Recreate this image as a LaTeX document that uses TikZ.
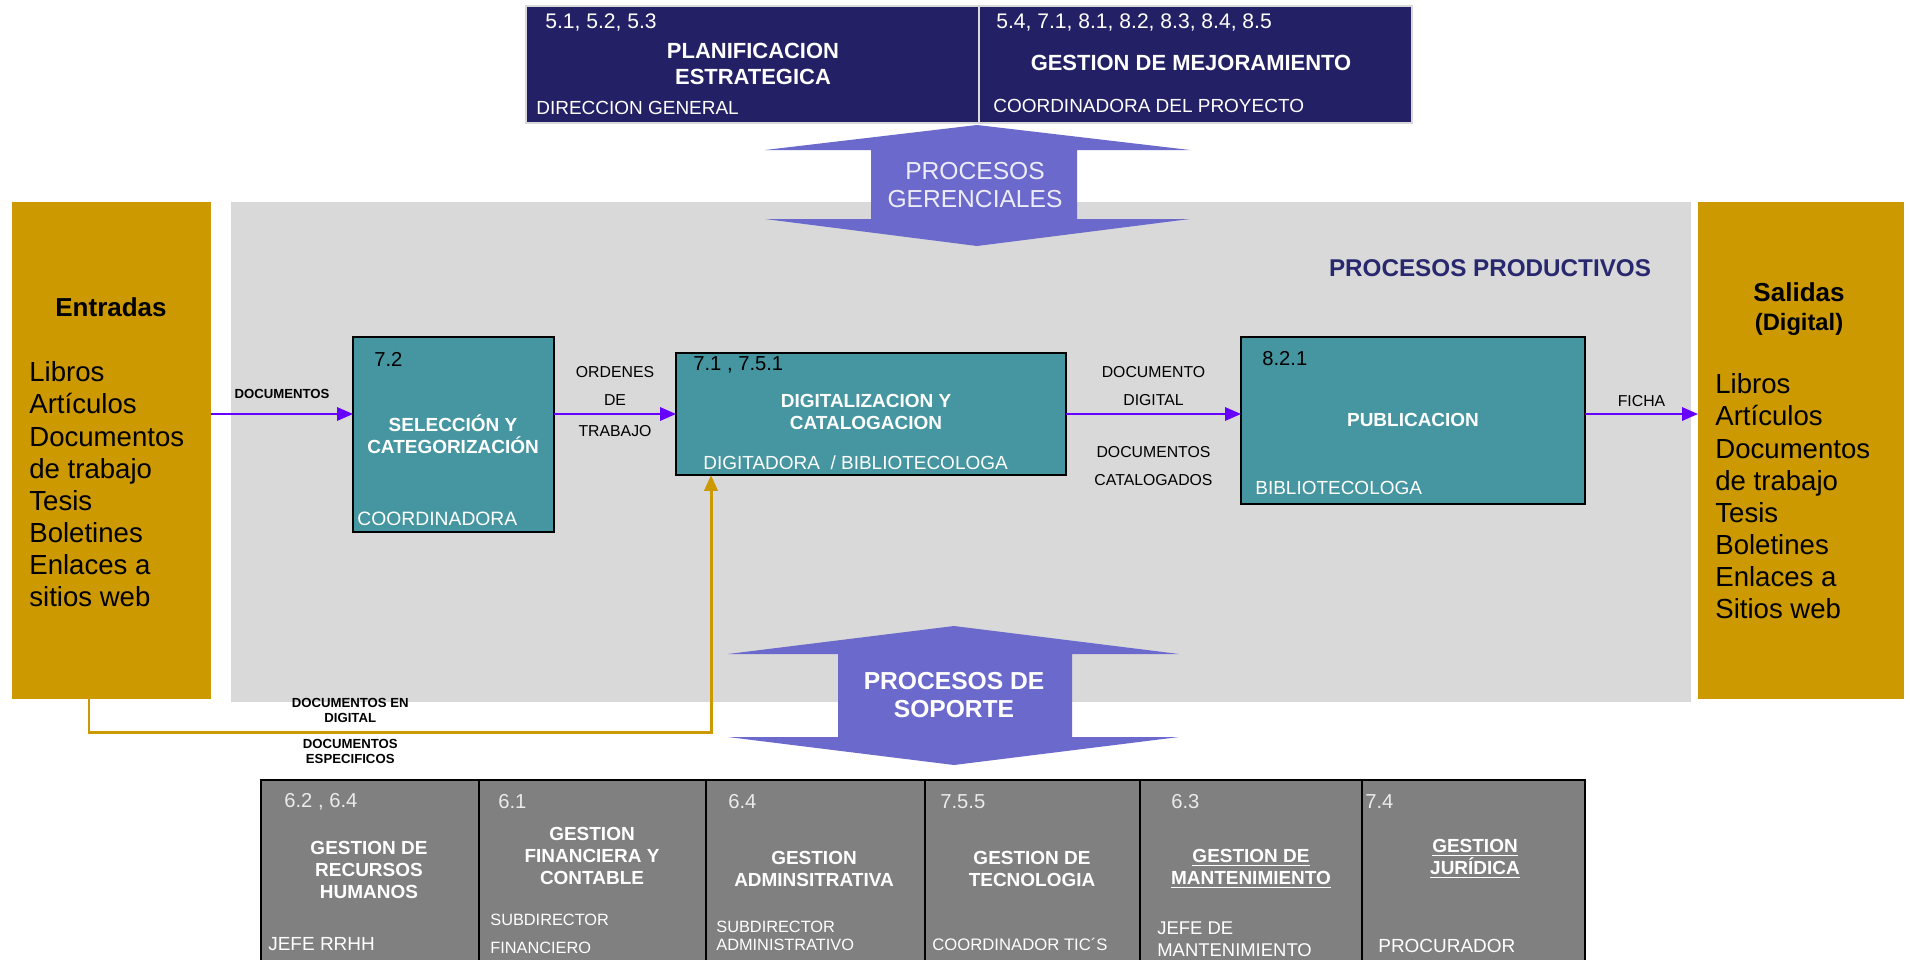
\documentclass[tikz,border=0pt]{standalone}
\usepackage{fontspec}
\setmainfont{Liberation Sans}
\usepackage{tikz}
\usetikzlibrary{calc}
\usetikzlibrary{positioning}
\usetikzlibrary{arrows.meta}

\definecolor{navybox}{RGB}{35,32,102}
\definecolor{arrowfill}{RGB}{107,105,204}
\definecolor{bandgray}{RGB}{217,217,217}
\definecolor{golden}{RGB}{204,153,0}
\definecolor{tealbox}{RGB}{69,150,160}
\definecolor{supportgray}{RGB}{128,128,128}
\definecolor{flowviolet}{RGB}{102,0,255}
\definecolor{prodtitle}{RGB}{40,40,110}

\begin{document}
\begin{tikzpicture}[x=0.02cm, y=-0.02cm,
	boxbase/.style={inner sep=0pt, outer sep=0pt},
	topbox/.style={boxbase, fill=navybox, draw=white!85!black, line width=0.8pt, minimum height=2.34cm},
	sidebox/.style={boxbase, fill=golden, minimum height=9.94cm},
	procbox/.style={boxbase, fill=tealbox, draw=black, line width=1.1pt},
	supbox/.style={boxbase, fill=supportgray, draw=black, line width=0.9pt, minimum height=3.8cm},
	flow/.style={flowviolet, line width=1.2pt, -{Triangle[length=9pt,width=7.5pt]}},
	feed/.style={golden, line width=1.7pt, -{Triangle[length=9pt,width=7.5pt]}},
	numtxt/.style={anchor=west, inner sep=0pt, font=\fontsize{11.5}{13}\selectfont},
	roletxt/.style={anchor=west, inner sep=0pt, align=left, text=white, font=\fontsize{10.8}{13}\selectfont},
	titletxt/.style={inner sep=0pt, align=center, text=white, font=\bfseries\fontsize{10.8}{12.5}\selectfont},
	listtxt/.style={anchor=west, inner sep=0pt, align=left, font=\fontsize{15.7}{18.3}\selectfont},
	lbl/.style={inner sep=0pt, align=center, text=black, font=\fontsize{9}{16}\selectfont},
	tinylbl/.style={inner sep=0pt, align=center, text=black, font=\bfseries\fontsize{7.5}{8.5}\selectfont},
	bigarrow/.style={fill=arrowfill},
	arrowtxt/.style={inner sep=0pt, align=center, font=\fontsize{14}{16}\selectfont}
]
	\useasboundingbox (0,0) rectangle (1910,960);

	\node[topbox, minimum width=9.06cm] (plan) at (752.5,64.5) {};
	\node[topbox, minimum width=8.66cm] (mejora) at (1195.5,64.5) {};
	\node[numtxt, text=white, font=\fontsize{12}{14}\selectfont] (plannum) at (545,22) {5.1, 5.2, 5.3};
	\node[titletxt, font=\bfseries\fontsize{12.5}{14.8}\selectfont] (plantit) at (753,64) {PLANIFICACION\\ESTRATEGICA};
	\node[roletxt] (planrole) at (536,108) {DIRECCION GENERAL};
	\node[numtxt, text=white, font=\fontsize{12}{14}\selectfont] (mejnum) at (996,22) {5.4, 7.1, 8.1, 8.2, 8.3, 8.4, 8.5};
	\node[titletxt, font=\bfseries\fontsize{12.5}{14.8}\selectfont] (mejtit) at (1191,63) {GESTION DE MEJORAMIENTO};
	\node[roletxt] (mejrole) at (993,106) {COORDINADORA DEL PROYECTO};

	\node[boxbase, fill=bandgray, minimum width=29.2cm, minimum height=10cm] (prod) at (961,452) {};
	\node[sidebox, minimum width=3.98cm] (ent) at (111.5,450.5) {};
	\node[sidebox, minimum width=4.12cm] (sal) at (1801,450.5) {};

	\fill[bigarrow] (977,125) -- (1190,150) -- (1077,150) -- (1077,219) -- (1190,219) -- (977,246) -- (765,219) -- (871,219) -- (871,150) -- (765,150) -- cycle;
	\node[arrowtxt, text=white!88!arrowfill] (gerenc) at (975,185) {PROCESOS\\GERENCIALES};
	\fill[bigarrow] (954,626) -- (1179,654) -- (1072,654) -- (1072,737) -- (1179,737) -- (954,765) -- (728,737) -- (838,737) -- (838,654) -- (728,654) -- cycle;
	\node[arrowtxt, text=white, font=\bfseries\fontsize{14}{16}\selectfont] (soporte) at (954,695) {PROCESOS DE\\SOPORTE};

	\node[inner sep=0pt, text=prodtitle, font=\bfseries\fontsize{13.8}{16}\selectfont] (prodtit) at (1490,268) {PROCESOS PRODUCTIVOS};

	\node[inner sep=0pt, font=\bfseries\fontsize{14.8}{17}\selectfont] (enttit) at (111,307) {Entradas};
	\node[listtxt] (entlist) at (29,484.5) {Libros\\Artículos\\Documentos\\de trabajo\\Tesis\\Boletines\\Enlaces a\\sitios web};
	\node[inner sep=0pt, font=\bfseries\fontsize{14.8}{17}\selectfont] (saltit) at (1799,292) {Salidas};
	\node[inner sep=0pt, font=\bfseries\fontsize{13.5}{16}\selectfont] (saldig) at (1799,324) {(Digital)};
	\node[listtxt] (sallist) at (1715,496.5) {Libros\\Artículos\\Documentos\\de trabajo\\Tesis\\Boletines\\Enlaces a\\Sitios web};

	\node[procbox, minimum width=4.02cm, minimum height=3.9cm] (selec) at (453.5,434.5) {};
	\node[procbox, minimum width=7.8cm, minimum height=2.44cm] (digit) at (871,414) {};
	\node[procbox, minimum width=6.88cm, minimum height=3.34cm] (publi) at (1413,420.5) {};

	\node[numtxt] (selecnum) at (374,359) {7.2};
	\node[titletxt] (selectit) at (453,434) {SELECCIÓN Y\\CATEGORIZACIÓN};
	\node[roletxt, font=\fontsize{11}{13}\selectfont] (selecrole) at (357,519) {COORDINADORA};
	\node[numtxt] (digitnum) at (693,365) {7.1 , 7.5.1};
	\node[titletxt] (digittit) at (866,412) {DIGITALIZACION Y\\CATALOGACION};
	\node[roletxt] (digitrole) at (703,463) {DIGITADORA \ / BIBLIOTECOLOGA};
	\node[numtxt] (publinum) at (1262,359) {8.2.1};
	\node[titletxt] (publitit) at (1413,420) {PUBLICACION};
	\node[roletxt] (publirole) at (1255,488) {BIBLIOTECOLOGA};

	\draw[flow] (ent.east |- digit) -- (selec.west |- digit) node[midway, above=8pt, tinylbl] {DOCUMENTOS};
	\draw[flow] (selec.east |- digit) -- (digit.west) node[midway, above=4pt, lbl] {ORDENES\\DE} node[midway, below=6pt, lbl] {TRABAJO};
	\draw[flow] (digit.east) -- (publi.west |- digit) node[midway, above=4pt, lbl] {DOCUMENTO\\DIGITAL} node[midway, below=18pt, lbl] {DOCUMENTOS\\CATALOGADOS};
	\draw[flow] (publi.east |- digit) -- (sal.west |- digit) node[midway, above=3.6pt, lbl] {FICHA};

	\coordinate (gleft) at (89,732);
	\coordinate (gright) at (711,732);
	\draw[feed] (ent.south -| gleft) -- (gleft) -- (gright) node[pos=0.42, above=4.7pt, tinylbl] {DOCUMENTOS EN\\DIGITAL} node[pos=0.42, below=3.5pt, tinylbl] {DOCUMENTOS\\ESPECIFICOS} -- (digit.south -| gright);

	\node[supbox, minimum width=4.36cm] (rrhh) at (370,875) {};
	\node[supbox, minimum width=4.54cm] (finan) at (592.5,875) {};
	\node[supbox, minimum width=4.38cm] (admin) at (815.5,875) {};
	\node[supbox, minimum width=4.30cm] (tecno) at (1032.5,875) {};
	\node[supbox, minimum width=4.44cm] (mante) at (1251,875) {};
	\node[supbox, minimum width=4.46cm] (jurid) at (1473.5,875) {};

	\node[numtxt, text=white!92!black] (rrhhnum) at (284,802) {6.2 , 6.4};
	\node[titletxt] (rrhhtit) at (369,870) {GESTION DE\\RECURSOS\\HUMANOS};
	\node[roletxt] (rrhhrole) at (268,944) {JEFE RRHH};
	\node[numtxt, text=white!92!black] (finannum) at (498,802) {6.1};
	\node[titletxt] (finantit) at (592,856) {GESTION\\FINANCIERA Y\\CONTABLE};
	\node[roletxt, font=\fontsize{9.3}{16}\selectfont] (finanrole) at (490,934) {SUBDIRECTOR\\FINANCIERO};
	\node[numtxt, text=white!92!black] (adminnum) at (728,802) {6.4};
	\node[titletxt] (admintit) at (814,869) {GESTION\\ADMINSITRATIVA};
	\node[roletxt, font=\fontsize{9.3}{10.4}\selectfont] (adminrole) at (716,936) {SUBDIRECTOR\\ADMINISTRATIVO};
	\node[numtxt, text=white!92!black] (tecnonum) at (940,802) {7.5.5};
	\node[titletxt] (tecnotit) at (1032,869) {GESTION DE\\TECNOLOGIA};
	\node[roletxt, font=\fontsize{9.5}{11}\selectfont] (tecnorole) at (932,944) {COORDINADOR TIC´S};
	\node[numtxt, text=white!92!black] (mantenum) at (1171,802) {6.3};
	\node[titletxt] (mantetit) at (1251,869) {\underline{GESTION DE}\\\underline{MANTENIMIENTO}};
	\node[roletxt, font=\fontsize{10.5}{12.5}\selectfont] (manterole) at (1157,939) {JEFE DE\\MANTENIMIENTO};
	\node[numtxt, text=white!92!black] (juridnum) at (1365,802) {7.4};
	\node[titletxt] (juridtit) at (1475,859) {\underline{GESTION}\\\underline{JURÍDICA}};
	\node[roletxt] (juridrole) at (1378,946) {PROCURADOR};
\end{tikzpicture}
\end{document}
